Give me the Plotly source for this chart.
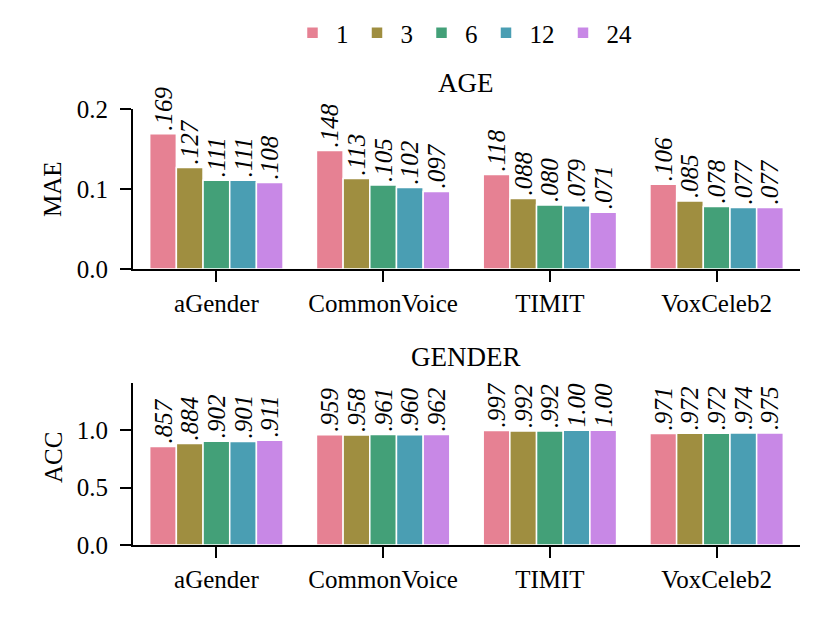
import plotly.graph_objects as go

categories = ["aGender", "CommonVoice", "TIMIT", "VoxCeleb2"]
series_names = ["1", "3", "6", "12", "24"]
colors = ["#E68193", "#9F8E40", "#43A078", "#4A9EB3", "#C888E6"]

# AGE (MAE) per series, ordered by categories
age_mae = {
    "1":  [0.169, 0.148, 0.118, 0.106],
    "3":  [0.127, 0.113, 0.088, 0.085],
    "6":  [0.111, 0.105, 0.080, 0.078],
    "12": [0.111, 0.102, 0.079, 0.077],
    "24": [0.108, 0.097, 0.071, 0.077],
}
# GENDER (ACC) per series
gender_acc = {
    "1":  [0.857, 0.959, 0.997, 0.971],
    "3":  [0.884, 0.958, 0.992, 0.972],
    "6":  [0.902, 0.961, 0.992, 0.972],
    "12": [0.901, 0.960, 0.9996, 0.974],
    "24": [0.911, 0.962, 0.9996, 0.975],
}

age_ticks = [0.0, 0.1, 0.2]
acc_ticks = [0.0, 0.5, 1.0]

FONT = "Liberation Serif"
W, H = 830, 623
OFF = 8  # page body margin offset


def fmt(v):
    s = f"{v:.3f}"
    if s.startswith("0"):
        return s[1:]
    return f"{v:.2f}"


fig = go.Figure()
for i, name in enumerate(series_names):
    for panel, data, xa, ya in [(0, age_mae, "x", "y"), (1, gender_acc, "x2", "y2")]:
        vals = data[name]
        fig.add_trace(go.Bar(
            x=categories, y=vals, name=name,
            xaxis=xa, yaxis=ya,
            marker=dict(color=colors[i], line=dict(color="white", width=1.5)),
            text=[fmt(v) for v in vals],
            textposition="outside", textangle=-90,
            textfont=dict(family=FONT, size=25, color="black", style="italic"),
            constraintext="none", cliponaxis=False,
            legendgroup=name, showlegend=(panel == 0),
        ))


def px_x(p):
    return (p - OFF) / W


def px_y(p):
    return (H - (p - OFF)) / H


axis_common = dict(
    showline=True, linecolor="black", linewidth=2,
    ticks="outside", ticklen=11, tickwidth=2, tickcolor="black",
    showgrid=False, zeroline=False,
    tickfont=dict(family=FONT, size=25, color="black"),
)

x_dom = [px_x(133), px_x(800)]


def ann(text, x, y, size, angle=0):
    return dict(text=text, x=px_x(x), y=px_y(y), xref="paper", yref="paper",
                xanchor="center", yanchor="middle", showarrow=False, textangle=angle,
                font=dict(family=FONT, size=size, color="black"))


fig.update_layout(
    width=W, height=H,
    margin=dict(l=0, r=0, t=0, b=0, autoexpand=False),
    paper_bgcolor="white", plot_bgcolor="white",
    barmode="group", bargap=0.2, bargroupgap=0.0,
    font=dict(family=FONT, color="black"),
    xaxis=dict(domain=x_dom, anchor="y", range=[-0.5, 3.5], **axis_common),
    yaxis=dict(domain=[px_y(269), px_y(109)], anchor="x", range=[0, 0.2],
               tickvals=age_ticks, ticktext=[f"{t:.1f}" for t in age_ticks],
               ticklabelstandoff=7, **axis_common),
    xaxis2=dict(domain=x_dom, anchor="y2", range=[-0.5, 3.5], **axis_common),
    yaxis2=dict(domain=[px_y(545), px_y(383)], anchor="x2", range=[0, 1.41],
                tickvals=acc_ticks, ticktext=[f"{t:.1f}" for t in acc_ticks],
                ticklabelstandoff=7, **axis_common),
    legend=dict(orientation="h", x=px_x(463), xanchor="center", y=px_y(33), yanchor="middle",
                font=dict(family=FONT, size=25, color="black"), itemwidth=37),
    annotations=[
        ann("AGE", 466, 83, 27),
        ann("GENDER", 466, 357, 27),
        ann("MAE", 53, 189, 25, -90),
        ann("ACC", 53, 458, 25, -90),
    ],
)

fig.write_html("out.html")
